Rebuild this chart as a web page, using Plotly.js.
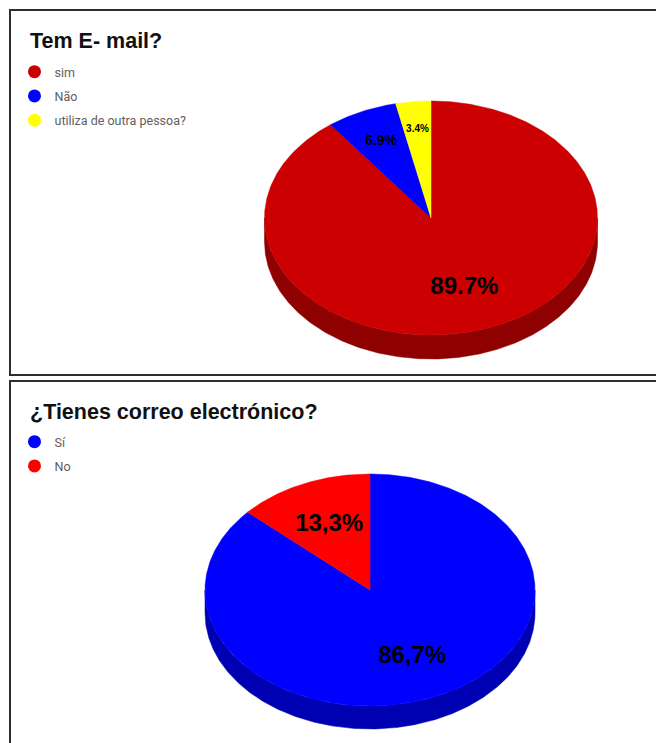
<!DOCTYPE html>
<html><head><meta charset="utf-8">
<script src="https://cdn.plot.ly/plotly-3.0.1.min.js"></script>
<style>
html,body{margin:0;padding:0;background:#fff;overflow:hidden;width:656px;height:743px;position:relative}
.panel{position:absolute;left:9px;border:2px solid #2e2e2e;background:#fff}
#c1{top:9px;width:660px;height:363px}
#c2{top:380px;width:660px;height:380px}
</style></head><body>
<div id="c1" class="panel"></div>
<div id="c2" class="panel"></div>
<script>
// ---- Data ----
const chart1Title = 'Tem E- mail?';
const chart1Labels = ['sim', 'Não', 'utiliza de outra pessoa?'];
const chart1Values = [89.7, 6.9, 3.4];

const chart2Title = '¿Tienes correo electrónico?';
const chart2Labels = ['Sí', 'No'];
const chart2Values = [86.7, 13.3];

// ---- Styles ----
const chart1Colors = ['#cc0000', '#0000ff', '#ffff00'];
const chart2Colors = ['#0000ff', '#ff0000'];
const chart1LabelSizes = [24, 14, 10];
const chart2LabelSizes = [24, 24];
const chart1LabelRadius = [0.63, 0.72, 0.76];
const chart2LabelRadius = [0.63, 0.61];

const FONT = 'Liberation Sans, Arial, sans-serif';
const LEGEND_FONT = 'Roboto, Liberation Sans, Arial, sans-serif';

function shade(hex, f) {
  const n = parseInt(hex.slice(1), 16);
  const r = Math.round(((n >> 16) & 255) * f), g = Math.round(((n >> 8) & 255) * f), b = Math.round((n & 255) * f);
  return 'rgb(' + r + ',' + g + ',' + b + ')';
}

function drawPie(id, g, title, labels, values, colors, sizes, radii, dec) {
  const total = values.reduce((a, b) => a + b, 0);
  const pt = (th, dy) => [g.cx + g.rx * Math.sin(th), g.cy - g.ry * Math.cos(th) + dy];
  const arc = (a, b, dy) => {
    const n = Math.max(2, Math.ceil((b - a) / 0.01));
    const out = [];
    for (let k = 0; k <= n; k++) out.push(pt(a + (b - a) * k / n, dy));
    return out;
  };
  const sides = [], tops = [], lx = [], ly = [], lt = [];
  let acc = 0;
  values.forEach((v, i) => {
    const a0 = acc / total * 2 * Math.PI;
    acc += v;
    const a1 = acc / total * 2 * Math.PI;
    // side wall (front half only)
    const s = Math.max(a0, Math.PI / 2), e = Math.min(a1, 3 * Math.PI / 2);
    if (e > s) {
      const pts = arc(s, e, 0).concat(arc(s, e, g.depth).reverse());
      pts.push(pts[0]);
      sides.push({type: 'scatter', mode: 'lines', fill: 'toself',
        x: pts.map(p => p[0]), y: pts.map(p => p[1]),
        fillcolor: shade(colors[i], 0.7), line: {width: 0.5, color: shade(colors[i], 0.7)},
        hoverinfo: 'skip', showlegend: false});
    }
    const tp = [[g.cx, g.cy]].concat(arc(a0, a1, 0));
    tp.push([g.cx, g.cy]);
    tops.push({type: 'scatter', mode: 'lines', fill: 'toself',
      x: tp.map(p => p[0]), y: tp.map(p => p[1]),
      fillcolor: colors[i], line: {width: 0.5, color: colors[i]},
      hoverinfo: 'skip', showlegend: false});
    const mid = (a0 + a1) / 2;
    lx.push(g.cx + g.rx * radii[i] * Math.sin(mid));
    ly.push(g.cy - g.ry * radii[i] * Math.cos(mid));
    lt.push(v.toFixed(1).replace('.', dec) + '%');
  });
  const text = {type: 'scatter', mode: 'text', x: lx, y: ly, text: lt,
    textposition: 'middle center',
    textfont: {size: sizes, color: '#000', family: FONT, weight: 700},
    hoverinfo: 'skip', showlegend: false};
  const legendTraces = labels.map((l, i) => ({type: 'scatter', mode: 'markers',
    x: [null], y: [null], name: l, legendgroup: 'g' + i,
    marker: {color: colors[i], size: 13}, showlegend: true}));

  const layout = {
    width: g.W, height: g.H, margin: {l: 0, r: 0, t: 0, b: 0},
    paper_bgcolor: '#fff', plot_bgcolor: '#fff',
    xaxis: {range: [g.ox, g.ox + g.W], visible: false, fixedrange: true},
    yaxis: {range: [g.oy + g.H, g.oy], visible: false, fixedrange: true},
    hovermode: false,
    showlegend: true,
    legend: {x: (g.legX - g.ox) / g.W, y: 1 - (g.legY - g.oy) / g.H, xanchor: 'left', yanchor: 'top',
      font: {size: 12.5, color: '#606060', family: LEGEND_FONT}, tracegroupgap: 5,
      bgcolor: 'rgba(0,0,0,0)', borderwidth: 0},
    title: {text: title, x: (g.titleX - g.ox) / g.W, xref: 'paper', xanchor: 'left',
      y: 1 - (g.titleY - g.oy) / g.H, yref: 'container', yanchor: 'middle',
      font: {size: 21.5, color: '#111', family: FONT, weight: 700}}
  };
  Plotly.newPlot(id, sides.concat(tops, [text], legendTraces), layout, {staticPlot: true, displayModeBar: false});
}

drawPie('c1', {ox: 11, oy: 11, W: 660, H: 363, cx: 431, cy: 218, rx: 166.5, ry: 117, depth: 24,
  legX: 14.5, legY: 57, titleX: 30, titleY: 40},
  chart1Title, chart1Labels, chart1Values, chart1Colors, chart1LabelSizes, chart1LabelRadius, '.');

drawPie('c2', {ox: 11, oy: 382, W: 660, H: 380, cx: 370, cy: 590, rx: 165, ry: 116, depth: 23,
  legX: 14.5, legY: 427, titleX: 30, titleY: 411},
  chart2Title, chart2Labels, chart2Values, chart2Colors, chart2LabelSizes, chart2LabelRadius, ',');
</script>
</body></html>
